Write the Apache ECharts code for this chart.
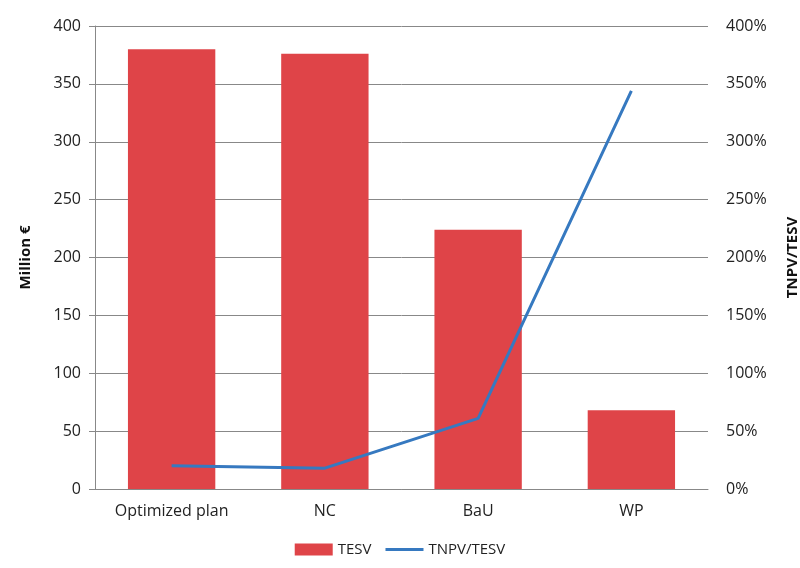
<!DOCTYPE html>
<html>
<head>
<meta charset="utf-8">
<script src="https://cdn.jsdelivr.net/npm/echarts@6/dist/echarts.min.js"></script>
<style>
  html, body { margin: 0; padding: 0; background: #fff; }
  #chart { width: 800px; height: 568px; }
</style>
</head>
<body>
<div id="chart"></div>
<script>
const categories = ["Optimized plan", "NC", "BaU", "WP"];
const tesv = [380, 376, 224, 68];
const ratio = [20, 18, 61, 344];
const leftTicks = [0, 400, 50];
const rightTicks = [0, 400, 50];

const font = "'Open Sans', 'Liberation Sans', sans-serif";
const chart = echarts.init(document.querySelector("#chart"));

chart.setOption({
  animation: false,
  textStyle: { fontFamily: font },
  grid: { left: 95, right: 92, top: 26, bottom: 79, outerBoundsMode: "none" },
  legend: {
    bottom: 6,
    left: "center",
    itemGap: 14,
    textStyle: { fontSize: 15, color: "#222" },
    data: [
      { name: "TESV", icon: "rect", itemStyle: { color: "#df4448" } },
      { name: "TNPV/TESV", icon: "path://M0,4 L40,4 L40,7 L0,7 Z", itemStyle: { color: "#3679c0" } },
    ],
    itemWidth: 38,
    itemHeight: 12,
  },
  xAxis: {
    type: "category",
    data: categories,
    axisLine: { lineStyle: { color: "#888" } },
    axisTick: { show: false },
    axisLabel: { fontSize: 16, color: "#222", margin: 14 },
  },
  yAxis: [
    {
      type: "value",
      min: leftTicks[0],
      max: leftTicks[1],
      interval: leftTicks[2],
      name: "Million €",
      nameLocation: "middle",
      nameRotate: 90,
      nameGap: 62,
      nameTextStyle: { fontSize: 15, fontWeight: "bold", color: "#111" },
      axisLine: { show: true, lineStyle: { color: "#888" } },
      axisTick: { show: true, length: 6, lineStyle: { color: "#888" } },
      axisLabel: { fontSize: 16, color: "#222", margin: 14 },
      splitLine: { lineStyle: { color: "#888", width: 1 } },
    },
    {
      type: "value",
      min: rightTicks[0],
      max: rightTicks[1],
      interval: rightTicks[2],
      name: "TNPV/TESV",
      nameLocation: "middle",
      nameRotate: 90,
      nameGap: 77,
      nameTextStyle: { fontSize: 15, fontWeight: "bold", color: "#111" },
      axisLine: { show: false },
      axisTick: { show: false },
      axisLabel: { fontSize: 16, color: "#222", margin: 18, formatter: (v) => v + "%" },
      splitLine: { show: false },
    },
  ],
  series: [
    {
      name: "TESV",
      type: "bar",
      data: tesv,
      barWidth: "57%",
      itemStyle: { color: "#df4448" },
    },
    {
      name: "TNPV/TESV",
      type: "line",
      yAxisIndex: 1,
      data: ratio,
      symbol: "none",
      lineStyle: { color: "#3679c0", width: 3 },
      itemStyle: { color: "#3679c0" },
    },
  ],
});
</script>
</body>
</html>
